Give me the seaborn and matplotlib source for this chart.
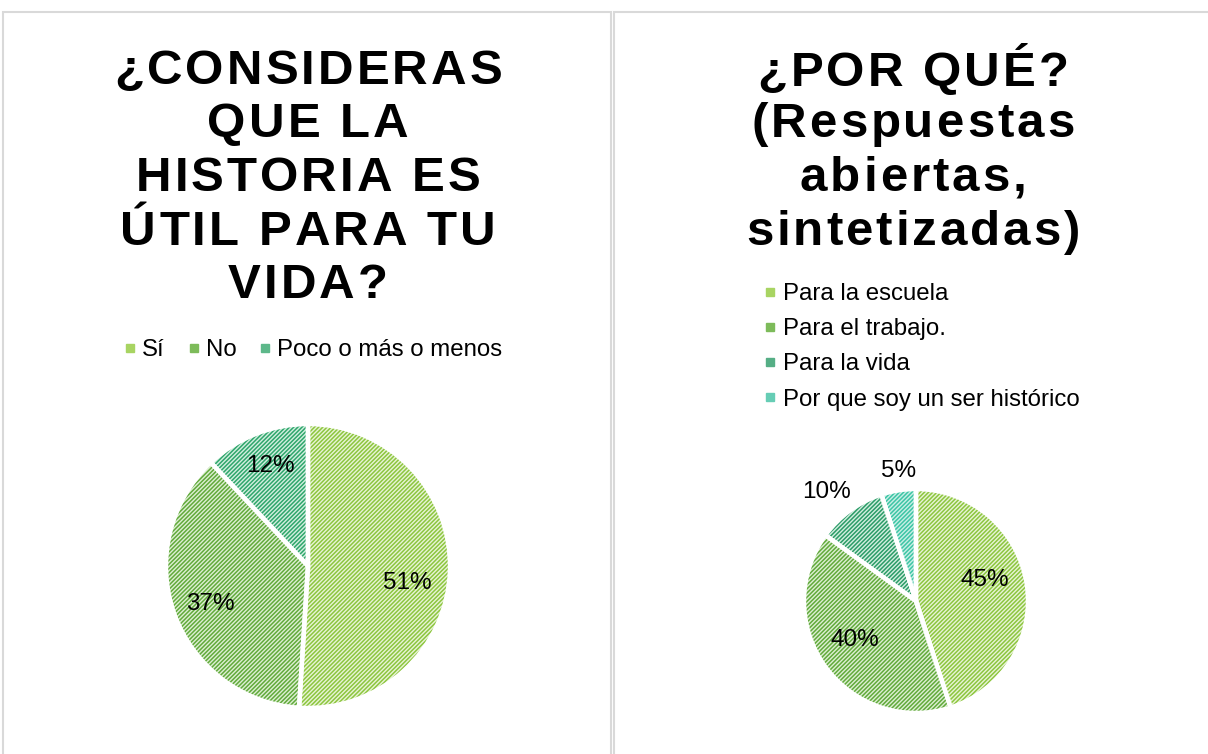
import numpy as np
import matplotlib
matplotlib.use("Agg")
import matplotlib.pyplot as plt
import seaborn as sns
from matplotlib.font_manager import FontProperties, findfont
from matplotlib.ft2font import FT2Font
from matplotlib.lines import Line2D
from matplotlib.patches import Rectangle

# ---------------- data ----------------
title_left = ["¿CONSIDERAS", "QUE LA", "HISTORIA ES", "ÚTIL PARA TU", "VIDA?"]
cats_left = ["Sí", "No", "Poco o más o menos"]
vals_left = [51, 37, 12]

title_right = ["¿POR QUÉ?", "(Respuestas", "abiertas,", "sintetizadas)"]
cats_right = ["Para la escuela", "Para el trabajo.", "Para la vida",
              "Por que soy un ser histórico"]
vals_right = [45, 40, 10, 5]

# ---------------- style ----------------
bg_left = ["#e8f4d6", "#ddf0d3", "#d3efe0"]
stripe_left = ["#8dc63f", "#62aa3c", "#2fa66c"]
legend_left = ["#a8d462", "#7dbb5a", "#5db88a"]

bg_right = ["#e8f4d6", "#ddf0d3", "#d3efe0", "#c9efe6"]
stripe_right = ["#8dc63f", "#62aa3c", "#2c9c68", "#3dc5a5"]
legend_right = ["#a8d462", "#7dbb5a", "#55ae85", "#66cdb5"]

# label placement: (distance from centre in radii, angle offset from wedge middle)
lab_left = [(0.71, -7.8), (0.74, 1.4), (0.75, -0.8)]
lab_right = [(0.64, 7.9), (0.65, -3.4), (1.26, 3.5), (1.17, -1.5)]

sns.set_theme(style="white")
FAM = "Liberation Sans"
plt.rcParams["font.family"] = [FAM, "DejaVu Sans"]
plt.rcParams["text.color"] = "black"
plt.rcParams["hatch.linewidth"] = 1.1

W, H = 1208, 754
fig = plt.figure(figsize=(W / 100, H / 100), dpi=100)
fig.patch.set_facecolor("white")

# panel borders
border = "#d9d9d9"
fig.add_artist(Rectangle((3 / W, -0.05), (611 - 3) / W, (H - 12) / H + 0.05,
                         transform=fig.transFigure, fill=False,
                         edgecolor=border, lw=1.5))
fig.add_artist(Rectangle((614 / W, -0.05), 0.5, (H - 12) / H + 0.05,
                         transform=fig.transFigure, fill=False,
                         edgecolor=border, lw=1.5))


def spaced_title(lines, cx, baselines, size=35.5, track=3.0):
    fp = FontProperties(family=FAM, weight="bold", size=size)
    font = FT2Font(findfont(fp))
    font.set_size(size, 100)
    for s, by in zip(lines, baselines):
        adv = []
        for ch in s:
            g = font.load_char(ord(ch))
            adv.append(g.linearHoriAdvance / 65536.0)
        total = sum(adv) + track * (len(s) - 1)
        x = cx - total / 2
        for ch, a in zip(s, adv):
            fig.text((x + a / 2) / W, 1 - by / H, ch, ha="center",
                     va="baseline", fontproperties=fp, color="black")
            x += a + track


def draw_pie(cx, cy, R, vals, bgs, stripes, labpos, fs=17.5):
    ax = fig.add_axes([(cx - R) / W, (H - cy - R) / H, 2 * R / W, 2 * R / H])
    kw = dict(startangle=90, counterclock=False, radius=1.0)
    wedges, _, autotexts = ax.pie(
        vals, colors=bgs, autopct=lambda p: f"{p:.0f}%",
        wedgeprops=dict(linewidth=0),
        textprops=dict(fontsize=fs, color="black"), **kw)
    w2, _ = ax.pie(vals, colors=["none"] * len(vals),
                   wedgeprops=dict(linewidth=0), **kw)
    for w, c in zip(w2, stripes):
        w.set_edgecolor(c)
        w.set_hatch("////////")
        w.set_linewidth(0)
    ax.pie(vals, colors=["none"] * len(vals),
           wedgeprops=dict(linewidth=3.2, edgecolor="white"), **kw)
    for w, t, (d, off) in zip(wedges, autotexts, labpos):
        ang = np.deg2rad((w.theta1 + w.theta2) / 2 + off)
        t.set_position((d * np.cos(ang), d * np.sin(ang)))
        t.set_zorder(10)
    ax.set_xlim(-1, 1)
    ax.set_ylim(-1, 1)
    ax.axis("off")
    return ax


# ---------------- left panel ----------------
spaced_title(title_left, 308, [84, 137, 191, 245, 298])
draw_pie(308, 566, 142, vals_left, bg_left, stripe_left, lab_left)
hl = [Line2D([], [], ls="none", marker="s", markersize=5.5,
             markerfacecolor=c, markeredgecolor=c) for c in legend_left]
fig.legend(hl, cats_left, loc="center", bbox_to_anchor=(314 / W, 1 - 350 / H),
           ncol=3, frameon=False, fontsize=17.3, handlelength=0.4,
           handletextpad=0.3, columnspacing=1.0, borderpad=0,
           borderaxespad=0, labelcolor="black")

# ---------------- right panel ----------------
spaced_title(title_right, 913, [86, 137, 191, 245])
draw_pie(916, 601, 112, vals_right, bg_right, stripe_right, lab_right)
hr = [Line2D([], [], ls="none", marker="s", markersize=5.5,
             markerfacecolor=c, markeredgecolor=c) for c in legend_right]
fig.legend(hr, cats_right, loc="upper left",
           bbox_to_anchor=(765 / W, 1 - 283 / H), ncol=1, frameon=False,
           fontsize=17.3, handlelength=0.4, handletextpad=0.35,
           labelspacing=0.55, borderpad=0, borderaxespad=0,
           labelcolor="black")

fig.savefig("out.png", dpi=100)
